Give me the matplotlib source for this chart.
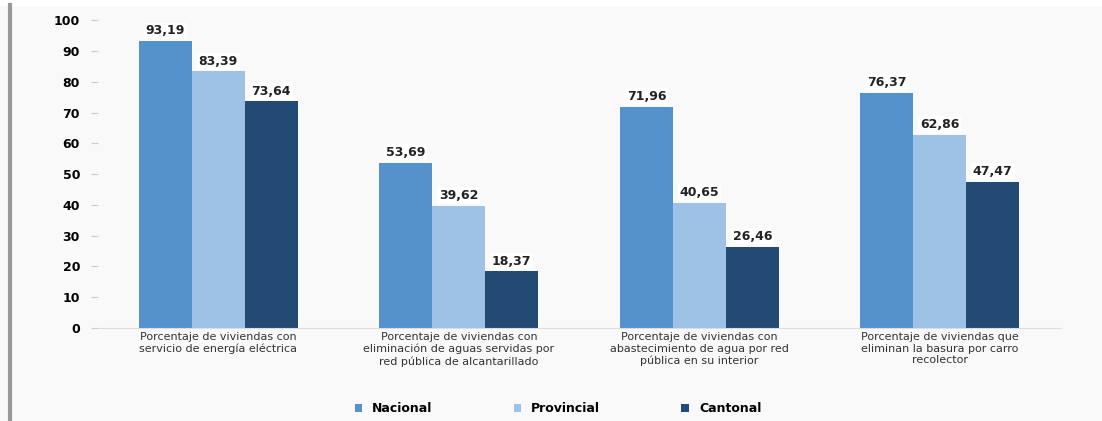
import numpy as np
import matplotlib.pyplot as plt
from matplotlib.lines import Line2D

categories = [
    "Porcentaje de viviendas con\nservicio de energía eléctrica",
    "Porcentaje de viviendas con\neliminación de aguas servidas por\nred pública de alcantarillado",
    "Porcentaje de viviendas con\nabastecimiento de agua por red\npública en su interior",
    "Porcentaje de viviendas que\neliminan la basura por carro\nrecolector",
]
series_names = ["Nacional", "Provincial", "Cantonal"]
nacional = [93.19, 53.69, 71.96, 76.37]
provincial = [83.39, 39.62, 40.65, 62.86]
cantonal = [73.64, 18.37, 26.46, 47.47]
colors = ["#5591cb", "#9dc2e6", "#234a73"]

fig = plt.figure(figsize=(11.02, 4.21), dpi=100, facecolor="#f9f9f9")
ax = fig.add_axes([0.089, 0.221, 0.873, 0.731])
ax.set_facecolor("#f9f9f9")

x = np.arange(len(categories))
w = 0.22
for i, (vals, name) in enumerate(zip([nacional, provincial, cantonal], series_names)):
    xs = x + (i - 1) * w
    ax.bar(xs, vals, width=w, color=colors[i], label=name, zorder=2)
    for xi, v in zip(xs, vals):
        ax.text(xi, v + 1.2, f"{v:.2f}".replace(".", ","), ha="center", va="bottom",
                fontsize=9, fontweight="bold", color="#222222",
                bbox=dict(boxstyle="square,pad=0.15", fc="white", ec="none"))

ax.set_xlim(-0.5, 3.5)
ax.set_ylim(0, 100)
ax.set_yticks(np.arange(0, 101, 10))
ax.tick_params(axis="y", labelsize=9, length=5, color="#cccccc", pad=8)
for lbl in ax.get_yticklabels():
    lbl.set_fontweight("bold")
ax.set_xticks(x)
ax.set_xticklabels(categories, fontsize=8, color="#333333")
ax.tick_params(axis="x", length=0, pad=3)
for s in ["top", "right", "left"]:
    ax.spines[s].set_visible(False)
ax.spines["bottom"].set_color("#dddddd")

ax.legend(loc="upper center", bbox_to_anchor=(0.478, -0.205), ncol=3, frameon=False,
          handlelength=0.6, handleheight=0.6, columnspacing=6.5,
          prop={"weight": "bold", "size": 9})

# top white strip and left border bar
fig.patches.append(plt.Rectangle((0, 0.988), 1, 0.012, transform=fig.transFigure,
                                 color="white", zorder=0))
fig.add_artist(Line2D([0.0095, 0.0095], [0, 0.988], transform=fig.transFigure,
                      color="#999999", lw=3))

fig.savefig("out.png", dpi=100, facecolor=fig.get_facecolor())
